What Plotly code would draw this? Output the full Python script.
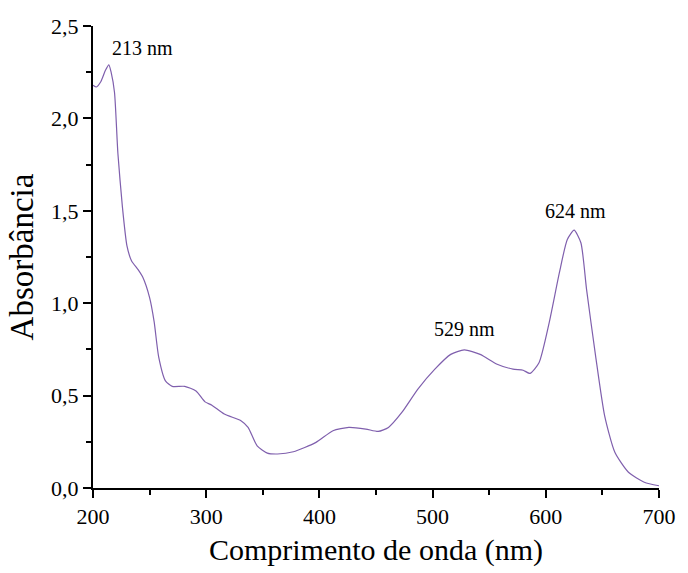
import plotly.graph_objects as go

wavelength = [200, 203, 207, 211, 214, 216, 219, 222, 226, 230, 234, 240, 244, 250,
              254, 258, 264, 270, 281, 291, 299, 305, 316, 331, 337, 345, 354, 363,
              377, 397, 412, 426, 441, 452, 461, 473, 487, 502, 516, 528, 542, 557,
              571, 580, 586, 594, 603, 612, 619, 625, 631, 636, 644, 652, 661, 673,
              687, 700]
absorbance = [2.18, 2.17, 2.20, 2.26, 2.29, 2.25, 2.14, 1.81, 1.52, 1.31, 1.23, 1.18,
              1.14, 1.03, 0.90, 0.71, 0.58, 0.55, 0.55, 0.525, 0.466, 0.448, 0.40,
              0.363, 0.328, 0.228, 0.189, 0.184, 0.196, 0.247, 0.31, 0.328, 0.319,
              0.306, 0.328, 0.41, 0.535, 0.643, 0.723, 0.747, 0.723, 0.67, 0.643,
              0.637, 0.62, 0.678, 0.895, 1.165, 1.345, 1.395, 1.327, 1.075, 0.714,
              0.39, 0.193, 0.085, 0.031, 0.012]

peak_labels = ["213 nm", "529 nm", "624 nm"]
peak_label_x = [244, 528, 626]
peak_label_y = [2.38, 0.86, 1.50]

x_ticks = [200, 300, 400, 500, 600, 700]
y_ticks = [0.0, 0.5, 1.0, 1.5, 2.0, 2.5]

FONT = "Liberation Serif, Times New Roman, serif"

fig = go.Figure()
fig.add_trace(go.Scatter(
    x=wavelength, y=absorbance, mode="lines",
    line=dict(color="#7f5fad", width=1.2, shape="spline", smoothing=0.6),
    showlegend=False, hoverinfo="skip"))

for t, xx, yy in zip(peak_labels, peak_label_x, peak_label_y):
    fig.add_annotation(x=xx, y=yy, text=t, showarrow=False, xref="x", yref="y",
                       font=dict(family=FONT, size=20, color="black"))

axis_common = dict(showgrid=False, zeroline=False, showline=True, linecolor="black",
                   linewidth=2, ticks="outside", ticklen=8, tickwidth=1.5,
                   tickcolor="black", mirror=False,
                   tickfont=dict(family=FONT, size=22, color="black"))

fig.update_xaxes(range=[200, 700], tickvals=x_ticks,
                 minor=dict(ticks="outside", ticklen=5, tickwidth=1.5, tickcolor="black", dtick=50, tick0=200),
                 title=dict(text="Comprimento de onda (nm)", font=dict(family=FONT, size=30, color="black"), standoff=11),
                 **axis_common)
fig.update_yaxes(range=[0, 2.5], tickvals=y_ticks, tickformat=".1f",
                 minor=dict(ticks="outside", ticklen=5, tickwidth=1.5, tickcolor="black", dtick=0.25, tick0=0),
                 title=dict(text="Absorbância", font=dict(family=FONT, size=33, color="black"), standoff=8),
                 **axis_common)

fig.update_layout(width=688, height=573, separators=",.",
                  margin=dict(l=93, r=20, t=26, b=84),
                  plot_bgcolor="white", paper_bgcolor="white")

fig.write_html("out.html")
